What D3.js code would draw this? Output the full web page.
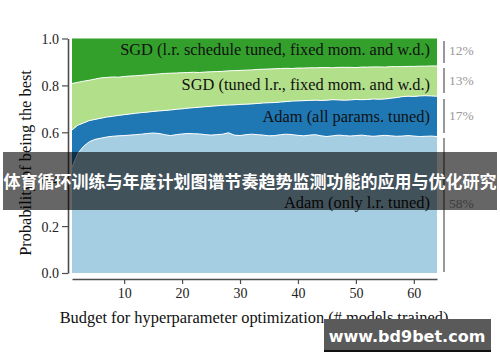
<!DOCTYPE html>
<html>
<head>
<meta charset="utf-8">
<script src="https://cdn.jsdelivr.net/npm/d3@7"></script>
<style>
  body { margin: 0; background: #fff; }
  svg { display: block; font-family: "Liberation Serif", "Times New Roman", serif; }
</style>
</head>
<body>
<svg id="chart" width="500" height="362"></svg>
<script>
// budget = number of models trained
var budgets = d3.range(1, 65);

// cumulative boundaries (top of each band)
var adamLrOnly = [0.45, 0.51, 0.54, 0.56, 0.57, 0.575, 0.58, 0.583, 0.585, 0.586, 0.588, 0.59,
  0.592, 0.595, 0.597, 0.595, 0.59, 0.586, 0.59, 0.593, 0.595, 0.594, 0.593, 0.59, 0.588, 0.59,
  0.592, 0.598, 0.588, 0.586, 0.59, 0.592, 0.59, 0.588, 0.585, 0.586, 0.59, 0.592, 0.59, 0.587,
  0.585, 0.588, 0.59, 0.585, 0.582, 0.585, 0.588, 0.586, 0.584, 0.586, 0.588, 0.585, 0.583,
  0.585, 0.587, 0.585, 0.583, 0.584, 0.586, 0.584, 0.582, 0.583, 0.584, 0.582];
var adamAll = [0.61, 0.63, 0.64, 0.65, 0.655, 0.66, 0.665, 0.668, 0.672, 0.675, 0.678, 0.681,
  0.684, 0.686, 0.689, 0.691, 0.693, 0.695, 0.698, 0.70, 0.703, 0.705, 0.707, 0.709, 0.711, 0.713,
  0.715, 0.716, 0.717, 0.719, 0.72, 0.721, 0.723, 0.725, 0.726, 0.727, 0.729, 0.731, 0.733, 0.734,
  0.735, 0.736, 0.737, 0.736, 0.737, 0.739, 0.738, 0.737, 0.738, 0.74, 0.739, 0.74, 0.742, 0.741,
  0.742, 0.745, 0.748, 0.752, 0.754, 0.753, 0.755, 0.756, 0.755, 0.754];
var sgdTuned = [0.808, 0.813, 0.818, 0.822, 0.827, 0.832, 0.834, 0.836, 0.835, 0.838, 0.84, 0.841,
  0.843, 0.845, 0.847, 0.849, 0.851, 0.852, 0.853, 0.854, 0.855, 0.856, 0.855, 0.857, 0.858, 0.859,
  0.86, 0.862, 0.863, 0.864, 0.865, 0.866, 0.868, 0.869, 0.87, 0.871, 0.872, 0.873, 0.872, 0.874,
  0.874, 0.875, 0.875, 0.876, 0.876, 0.875, 0.877, 0.877, 0.877, 0.876, 0.878, 0.878, 0.879,
  0.879, 0.878, 0.88, 0.88, 0.88, 0.881, 0.881, 0.882, 0.882, 0.883, 0.883];
var sgdSchedule = budgets.map(function() { return 1.0; });

var bandNames = ["Adam (only l.r. tuned)", "Adam (all params. tuned)",
  "SGD (tuned l.r., fixed mom. and w.d.)", "SGD (l.r. schedule tuned, fixed mom. and w.d.)"];
var bandColors = ["#a6cee3", "#1f78b4", "#b2df8a", "#33a02c"];
var shares = ["58%", "17%", "13%", "12%"];
var yTicks = [0.0, 0.2, 0.4, 0.6, 0.8, 1.0];
var xTicks = [10, 20, 30, 40, 50, 60];

var svg = d3.select("#chart");

var x = d3.scaleLinear().domain([1, 64]).range([72, 437]);
var y = d3.scaleLinear().domain([0, 1]).range([273, 38.5]);

var tops = [adamLrOnly, adamAll, sgdTuned, sgdSchedule];
var bands = tops.map(function(t, i) {
  return budgets.map(function(b, j) {
    return { b: b, lo: i === 0 ? 0 : tops[i - 1][j], hi: t[j] };
  });
});

var area = d3.area()
    .x(function(d) { return x(d.b); })
    .y0(function(d) { return y(d.lo); })
    .y1(function(d) { return y(d.hi); });

svg.append("g").selectAll("path")
  .data(bands)
  .enter().append("path")
    .attr("d", area)
    .attr("fill", function(d, i) { return bandColors[i]; });

// thin white lines between the bands
var line = d3.line()
    .x(function(d) { return x(d.b); })
    .y(function(d) { return y(d.hi); });

svg.append("g").selectAll("path")
  .data(bands.slice(0, 3))
  .enter().append("path")
    .attr("d", line)
    .attr("fill", "none")
    .attr("stroke", "#fff")
    .attr("stroke-width", 1);

// band labels
var labelY = [208, 122, 90, 55];
svg.append("g").selectAll("text")
  .data(bandNames)
  .enter().append("text")
    .attr("x", 430)
    .attr("y", function(d, i) { return labelY[i]; })
    .attr("text-anchor", "end")
    .attr("font-size", 16.4)
    .attr("fill", "#111")
    .text(function(d) { return d; });

// share brackets on the right
var bracket = [[138, 272], [99, 133], [68, 93], [41, 63]];
var shareY = [208, 120, 85, 55];
var side = svg.append("g");
side.selectAll("line")
  .data(bracket)
  .enter().append("line")
    .attr("x1", 444).attr("x2", 444)
    .attr("y1", function(d) { return d[0]; })
    .attr("y2", function(d) { return d[1]; })
    .attr("stroke", "#999")
    .attr("stroke-width", 2);
side.selectAll("text")
  .data(shares)
  .enter().append("text")
    .attr("x", 449)
    .attr("y", function(d, i) { return shareY[i]; })
    .attr("font-size", 13.5)
    .attr("fill", "#999")
    .text(function(d) { return d; });

// axes, detached from the plot
var yAxis = svg.append("g")
    .attr("transform", "translate(68,0)")
    .call(d3.axisLeft(y).tickValues(yTicks).tickFormat(d3.format(".1f")).tickSize(6).tickSizeOuter(0));
var xAxis = svg.append("g")
    .attr("transform", "translate(0,279)")
    .call(d3.axisBottom(x).tickValues(xTicks).tickSize(5).tickSizeOuter(0));

[yAxis, xAxis].forEach(function(g) {
  g.attr("font-family", null).attr("font-size", null);
  g.select(".domain").attr("stroke", "#4d4d4d").attr("stroke-width", 1.6);
  g.selectAll(".tick line").attr("stroke", "#4d4d4d").attr("stroke-width", 1.2);
  g.selectAll(".tick text")
    .style("font-family", "'Liberation Serif', serif")
    .style("font-size", "14px")
    .attr("fill", "#222");
});
yAxis.selectAll(".tick text").attr("x", -9).attr("dy", "0.35em");
xAxis.selectAll(".tick text").attr("y", 9);

svg.append("text")
    .attr("transform", "translate(31,163) rotate(-90)")
    .attr("text-anchor", "middle")
    .attr("font-size", 16.4)
    .attr("fill", "#111")
    .text("Probability of being the best");

svg.append("text")
    .attr("x", 254)
    .attr("y", 323)
    .attr("text-anchor", "middle")
    .attr("font-size", 16.4)
    .attr("fill", "#111")
    .text("Budget for hyperparameter optimization (# models trained)");

// title banner laid over the chart
svg.append("rect")
    .attr("x", 3).attr("y", 152)
    .attr("width", 494).attr("height", 58)
    .attr("fill", "rgba(0,0,0,0.6)");
svg.append("text")
    .attr("x", 250).attr("y", 188)
    .attr("text-anchor", "middle")
    .style("font-family", "'Noto Sans CJK SC', sans-serif")
    .style("font-weight", "bold")
    .style("font-size", "17px")
    .attr("fill", "#fff")
    .text("体育循环训练与年度计划图谱节奏趋势监测功能的应用与优化研究");

// watermark box
svg.append("rect")
    .attr("x", 324).attr("y", 319)
    .attr("width", 167).attr("height", 33)
    .attr("fill", "#5a5a5a");
svg.append("rect")
    .attr("x", 324).attr("y", 350)
    .attr("width", 167).attr("height", 2)
    .attr("fill", "#111");
svg.append("text")
    .attr("x", 407).attr("y", 342)
    .attr("text-anchor", "middle")
    .style("font-family", "'DejaVu Sans', sans-serif")
    .style("font-weight", "bold")
    .style("font-size", "16px")
    .attr("fill", "#fff")
    .text("www.bd9bet.com");
</script>
</body>
</html>
